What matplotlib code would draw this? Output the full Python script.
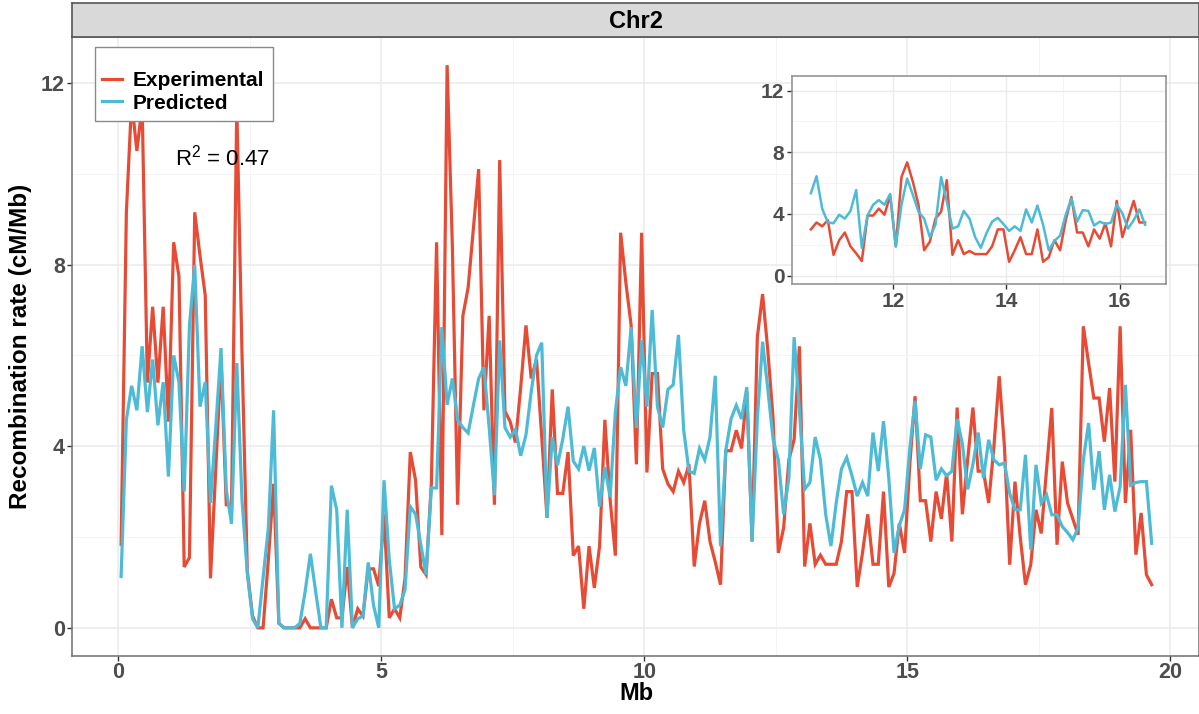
import numpy as np
import matplotlib
matplotlib.use("Agg")
import matplotlib.pyplot as plt
from matplotlib.ticker import MultipleLocator
from matplotlib.patches import Rectangle

plt.rcParams['font.family'] = ['Liberation Sans', 'DejaVu Sans']
plt.rcParams['mathtext.fontset'] = 'custom'
plt.rcParams['mathtext.rm'] = 'Liberation Sans'

# ---------------- data ----------------
chrom = "Chr2"
bin_start_mb = 0.05
bin_step_mb = 0.1

experimental = [
    1.84, 9.15, 11.6, 10.5, 11.5, 5.4, 7.07, 5.4, 7.07, 4.54, 8.49, 7.74, 1.34, 1.55, 9.15, 8.2, 7.32, 1.09, 3.5, 5.9, 2.71, 2.7, 11.5,
    6.0, 1.25, 0.26, 0, 0, 1.5, 3.17, 0.1, 0, 0, 0, 0, 0.2, 0, 0, 0, 0, 0.63, 0.22, 0.22, 1.34, 0, 0.42, 0.26, 1.3, 1.3,
    0.92, 2.5, 0.22, 0.42, 0.22, 1.09, 3.87, 3.25, 1.34, 1.17, 3.17, 8.49, 2.04, 12.39, 8.4, 2.71, 6.87, 7.49, 8.8, 10.1, 4.79, 6.87, 2.71, 10.3, 4.77,
    4.54, 4.08, 5.3, 6.66, 5.49, 5.91, 4.2, 2.42, 5.25, 2.96, 2.96, 3.87, 1.59, 1.8, 0.42, 1.8, 0.88, 1.8, 4.58, 2.83, 1.59, 8.7, 7.6, 6.66, 3.6, 8.7,
    3.42, 5.6, 5.6, 3.5, 3.17,
    3.0, 3.45, 3.2, 3.6, 1.35, 2.3, 2.8, 1.9, 1.45, 0.95, 3.9, 3.9, 4.35, 3.95, 5.2, 1.9, 6.4, 7.35, 6.1, 4.6,
    1.65, 2.2, 3.7, 4.15, 6.2, 1.35, 2.3, 1.4, 1.6, 1.4, 1.4, 1.4, 1.9, 3.0, 3.0, 0.9, 1.65, 2.5, 1.4, 1.4,
    3.0, 0.9, 1.2, 2.3, 1.65, 3.6, 5.1, 2.8, 2.8, 1.9, 3.0, 2.4, 3.4, 1.9, 4.85, 2.5, 3.7, 4.85, 3.45, 3.45,
    2.75, 4.0, 5.54, 3.99, 1.39, 3.22, 2.0, 0.95, 1.39, 2.6, 2.08, 3.48,
    4.84, 1.83, 3.66, 2.75, 2.4, 2.05, 6.64, 5.83, 5.06, 5.06, 4.10, 5.28, 3.22, 6.64, 2.75, 4.36, 1.61, 2.53, 1.17, 0.95,
]

predicted = [
    1.13, 4.58, 5.33, 4.79, 6.2, 4.75, 5.91, 4.46, 5.41, 3.33, 6.0, 5.41, 3.0, 6.66, 7.99, 4.87, 5.41, 2.75, 4.41, 6.16, 3.04, 2.29, 5.83,
    2.8, 1.2, 0.2, 0, 1.1, 2.2, 4.79, 0.1, 0, 0, 0, 0.1, 0.8, 1.63, 0.8, 0, 0, 3.13, 2.6, 0, 2.6, 0, 0.2, 0.26, 1.44, 0.5,
    0, 3.25, 1.5, 0.42, 0.5, 0.84, 2.67, 2.5, 1.84, 1.17, 3.08, 3.08, 6.62, 4.91, 5.49, 4.58, 4.41, 4.29, 4.9, 5.49, 5.74, 4.41, 2.92, 6.33, 4.41,
    4.2, 4.37, 3.79, 4.25, 5.2, 6.0, 6.28, 2.42, 4.2, 3.58, 4.16, 4.87, 3.67, 3.5, 4.0, 3.46, 3.96, 2.67, 3.54, 2.88, 4.75, 5.74, 5.33, 6.62, 4.4, 6.33,
    4.87, 7.0, 4.87, 4.41, 5.25,
    5.35, 6.45, 4.35, 3.45, 3.4, 3.95, 3.7, 4.2, 5.55, 1.8, 3.9, 4.6, 4.9, 4.6, 5.3, 1.9, 4.6, 6.3, 5.25, 4.15,
    3.7, 2.5, 3.3, 6.4, 4.8, 3.05, 3.2, 4.2, 3.7, 2.5, 1.8, 2.75, 3.5, 3.75, 3.35, 2.9, 3.2, 2.9, 4.3, 3.45,
    4.55, 3.3, 1.65, 2.25, 2.6, 3.95, 5.0, 3.5, 4.25, 4.2, 3.25, 3.5, 3.35, 3.45, 4.6, 4.05, 3.05, 3.6, 4.3, 3.3,
    4.14, 3.7, 3.59, 3.63, 2.96, 2.6, 2.6, 3.81, 1.72, 3.59, 2.75, 2.93,
    2.49, 2.49, 2.23, 2.1, 1.94, 2.2, 3.7, 4.51, 3.04, 3.89, 2.6, 3.37, 2.56, 3.11, 5.35, 3.14, 3.2, 3.22, 3.22, 1.86,
]

series_names = ["Experimental", "Predicted"]
series_colors = ["#E64B35", "#4DBBD5"]
r2_text = r"R$^{\mathregular{2}}$ = 0.47"
main_xticks = [0, 5, 10, 15, 20]
main_yticks = [0, 4, 8, 12]
inset_xticks = [12, 14, 16]
inset_yticks = [0, 4, 8, 12]
inset_range = (10.5, 16.5)

n = len(experimental)
mb = bin_start_mb + bin_step_mb * np.arange(n)
exp_arr = np.array(experimental, dtype=float)
pred_arr = np.array(predicted[:n], dtype=float)

# ---------------- figure ----------------
W, H = 1199, 714
fig = plt.figure(figsize=(W / 100, H / 100), dpi=100)

def fx(px):
    return px / W

def fy(py):
    return 1 - py / H

grid_major = "#EBEBEB"
grid_minor = "#F3F3F3"
tick_col = "#4D4D4D"
border_col = "#6E6E6E"

# main axes
p_left, p_right, p_top, p_bot = 72, 1199, 37, 656
pw, ph = p_right - p_left, p_bot - p_top
ax = fig.add_axes([fx(p_left), fy(p_bot), fx(pw), ph / H])
ax.set_xlim(-0.884, 20.55)
ax.set_ylim(-0.62, 13.01)

ax.xaxis.set_minor_locator(MultipleLocator(2.5))
ax.yaxis.set_minor_locator(MultipleLocator(2))
ax.set_xticks(main_xticks)
ax.set_yticks(main_yticks)
ax.grid(which="major", color=grid_major, lw=1.1, zorder=0)
ax.grid(which="minor", color=grid_minor, lw=0.6, zorder=0)
ax.set_axisbelow(True)
ax.tick_params(which="minor", length=0)
ax.tick_params(which="major", length=3.5, width=1, color="#333333", pad=1.5,
               labelsize=15.5, labelcolor=tick_col)
ax.tick_params(axis="x", which="major", pad=0.5)
for lab in ax.get_xticklabels() + ax.get_yticklabels():
    lab.set_fontweight("bold")
for s in ax.spines.values():
    s.set_color(border_col)
    s.set_linewidth(1.1)

for vals, name, col in zip([exp_arr, pred_arr], series_names, series_colors):
    ax.plot(mb, vals, color=col, lw=2.3, label=name, solid_joinstyle="miter", zorder=3)

# legend box (frame drawn separately to match the reference padding)
def axc(px, py):
    return ((px - p_left) / pw, (p_bot - py) / ph)

bx0, by0 = axc(95, 121)
bx1, by1 = axc(273, 47)
ax.add_patch(Rectangle((bx0, by0), bx1 - bx0, by1 - by0, transform=ax.transAxes,
                       facecolor="white", edgecolor="#8A8A8A", lw=1.0, zorder=9, clip_on=False))
leg = ax.legend(loc="upper left", bbox_to_anchor=axc(102, 71),
                borderaxespad=0, frameon=False,
                prop={"weight": "bold", "size": 15}, handlelength=0.95, handletextpad=0.5,
                labelspacing=0.18, borderpad=0)
leg.set_zorder(10)

ax.text((175 - 118.5) / 52.6, (628 - 166) / 45.42, r2_text, fontsize=16, ha="left", va="baseline", zorder=5)

# axis titles
fig.text(fx(636), fy(694), "Mb", ha="center", va="center", fontsize=17, fontweight="bold")
fig.text(fx(21), fy((p_top + p_bot) / 2), "Recombination rate (cM/Mb)", ha="center", va="center",
         rotation=90, fontsize=17.5, fontweight="bold")

# strip
sax = fig.add_axes([fx(p_left), fy(p_top), fx(pw), (p_top - 3) / H])
sax.set_facecolor("#D9D9D9")
sax.set_xticks([])
sax.set_yticks([])
for s in sax.spines.values():
    s.set_color("#555555")
    s.set_linewidth(1.2)
sax.text(0.5, 0.47, chrom, ha="center", va="center", fontsize=17, fontweight="bold", transform=sax.transAxes)

# inset
i_left, i_right, i_top, i_bot = 792, 1166, 76, 284
iax = fig.add_axes([fx(i_left), fy(i_bot), fx(i_right - i_left), (i_bot - i_top) / H])
iax.set_facecolor("white")
iax.set_xlim(10.217, 16.82)
iax.set_ylim(-0.54, 12.95)
iax.xaxis.set_minor_locator(MultipleLocator(1))
iax.yaxis.set_minor_locator(MultipleLocator(2))
iax.set_xticks(inset_xticks)
iax.set_yticks(inset_yticks)
iax.grid(which="major", color=grid_major, lw=1.0, zorder=0)
iax.grid(which="minor", color=grid_minor, lw=0.6, zorder=0)
iax.set_axisbelow(True)
iax.tick_params(which="minor", length=0)
iax.tick_params(which="major", length=3.5, width=1, color="#333333", pad=2,
                labelsize=15, labelcolor=tick_col)
for lab in iax.get_xticklabels() + iax.get_yticklabels():
    lab.set_fontweight("bold")
for s in iax.spines.values():
    s.set_color("#8C8C8C")
    s.set_linewidth(1.1)
mask = (mb >= inset_range[0]) & (mb <= inset_range[1])
for vals, col in zip([exp_arr, pred_arr], series_colors):
    iax.plot(mb[mask], vals[mask], color=col, lw=1.8, zorder=3)

fig.savefig("out.png", dpi=100, facecolor="white")
